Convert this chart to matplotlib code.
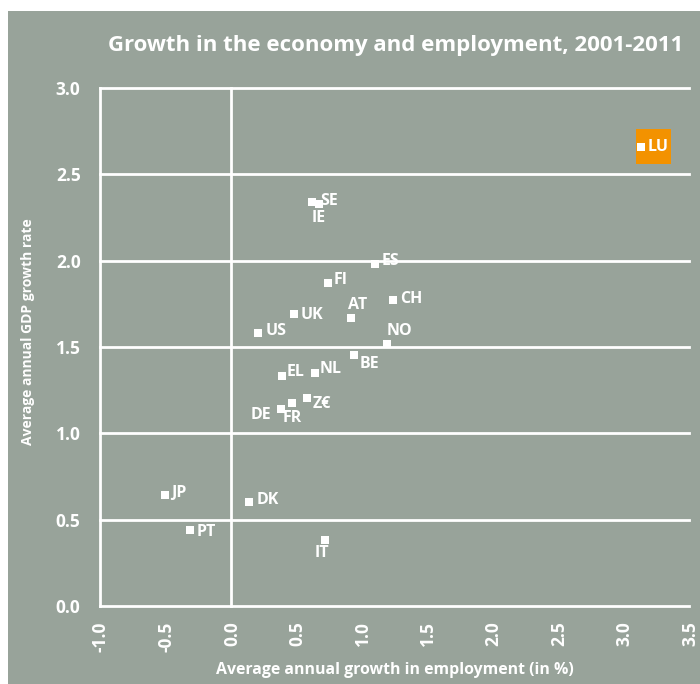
import matplotlib
matplotlib.use("Agg")
import matplotlib.pyplot as plt
import matplotlib.transforms as mtransforms
from matplotlib.patches import Rectangle

# Average annual growth 2001-2011 (%)
countries = ['LU', 'SE', 'IE', 'ES', 'FI', 'CH', 'AT', 'UK', 'US', 'NO',
             'BE', 'EL', 'NL', 'Z€', 'DE', 'FR', 'JP', 'PT', 'DK', 'IT']
employment = [3.13, 0.62, 0.67, 1.10, 0.74, 1.24, 0.92, 0.48, 0.21, 1.19,
              0.94, 0.39, 0.64, 0.58, 0.38, 0.465, -0.50, -0.31, 0.14, 0.72]
gdp = [2.66, 2.34, 2.33, 1.98, 1.87, 1.77, 1.67, 1.69, 1.58, 1.52,
       1.455, 1.33, 1.35, 1.205, 1.14, 1.175, 0.64, 0.44, 0.60, 0.38]
highlight = 'LU'

x_ticks = [-1.0, -0.5, 0.0, 0.5, 1.0, 1.5, 2.0, 2.5, 3.0, 3.5]
y_ticks = [0.0, 0.5, 1.0, 1.5, 2.0, 2.5, 3.0]

# label placement: (dx, dy) in pixels, horizontal alignment
label_pos = {
    'LU': (7, 0, 'left'), 'SE': (8, 1, 'left'), 'IE': (0, -14, 'center'),
    'ES': (7, 3, 'left'), 'FI': (6, 3, 'left'), 'CH': (7, 1, 'left'),
    'AT': (6, 13, 'center'), 'UK': (7, -1, 'left'), 'US': (7, 2, 'left'),
    'NO': (13, 13, 'center'), 'BE': (6, -9, 'left'), 'EL': (5, 4, 'left'),
    'NL': (5, 4, 'left'), 'Z€': (6, -6, 'left'), 'DE': (-9, -6, 'right'),
    'FR': (0, -15, 'center'), 'JP': (6, 2, 'left'), 'PT': (6, -2, 'left'),
    'DK': (7, 2, 'left'), 'IT': (-3, -13, 'center'),
}

BG = '#98a39a'
ORANGE = '#f39200'
plt.rcParams['font.family'] = ['Open Sans', 'DejaVu Sans']

fig = plt.figure(figsize=(7.0, 6.84), dpi=100)
fig.patch.set_facecolor('white')
fig.patches.append(Rectangle((8 / 700, 0), 1, (684 - 11) / 684,
                             transform=fig.transFigure, facecolor=BG,
                             edgecolor='none', zorder=-10))

ax = fig.add_axes([100 / 700, (684 - 606) / 684, 589 / 700, 518 / 684])
ax.set_facecolor('none')
ax.set_xlim(-1.0, 3.5)
ax.set_ylim(0.0, 3.0)
for s in ax.spines.values():
    s.set_visible(False)

# white grid
for y in y_ticks:
    ax.axhline(y, color='white', lw=2.0, clip_on=False, zorder=1)
for x in [-1.0, 0.0]:
    ax.axvline(x, color='white', lw=2.0, clip_on=False, zorder=1)

# highlight box behind LU
i = countries.index(highlight)
off = mtransforms.ScaledTranslation(employment[i], gdp[i], ax.transData)
ax.add_patch(Rectangle((-0.05, -0.175), 0.35, 0.35, facecolor=ORANGE,
                       edgecolor='none', transform=fig.dpi_scale_trans + off,
                       zorder=2))

ax.plot(employment, gdp, linestyle='none', marker='s', markersize=6,
        color='white', markeredgewidth=0, zorder=3)

for c, x, y in zip(countries, employment, gdp):
    dx, dy, ha = label_pos[c]
    ax.annotate(c, (x, y), xytext=(dx, dy), textcoords='offset pixels',
                ha=ha, va='center', color='white', fontsize=11.5,
                fontweight='bold', zorder=4)

ax.set_xticks(x_ticks)
ax.set_xticklabels(['%.1f' % v for v in x_ticks], rotation=90)
ax.set_yticks(y_ticks)
ax.set_yticklabels(['%.1f' % v for v in y_ticks])
ax.tick_params(length=0, colors='white', labelsize=12.5)
ax.tick_params(axis='x', pad=11)
ax.tick_params(axis='y', pad=14)
shift = mtransforms.ScaledTranslation(1 / 100, 0, fig.dpi_scale_trans)
for lab in ax.get_xticklabels():
    lab.set_fontweight('bold')
    lab.set_transform(lab.get_transform() + shift)
for lab in ax.get_yticklabels():
    lab.set_fontweight('bold')

ax.set_xlabel('Average annual growth in employment (in %)', color='white',
              fontsize=11.4, fontweight='bold', va='center')
ax.xaxis.set_label_coords(0.5, (606 - 670) / 518)
ax.set_ylabel('Average annual GDP growth rate', color='white',
              fontsize=10, fontweight='bold', va='center')
ax.yaxis.set_label_coords((28 - 100) / 589, (606 - 332) / 518)

fig.text(683 / 700, 1 - 46 / 684,
         'Growth in the economy and employment, 2001-2011',
         ha='right', va='center', color='white', fontsize=16,
         fontweight='bold')

fig.savefig('out.png', dpi=100, facecolor=fig.get_facecolor())
